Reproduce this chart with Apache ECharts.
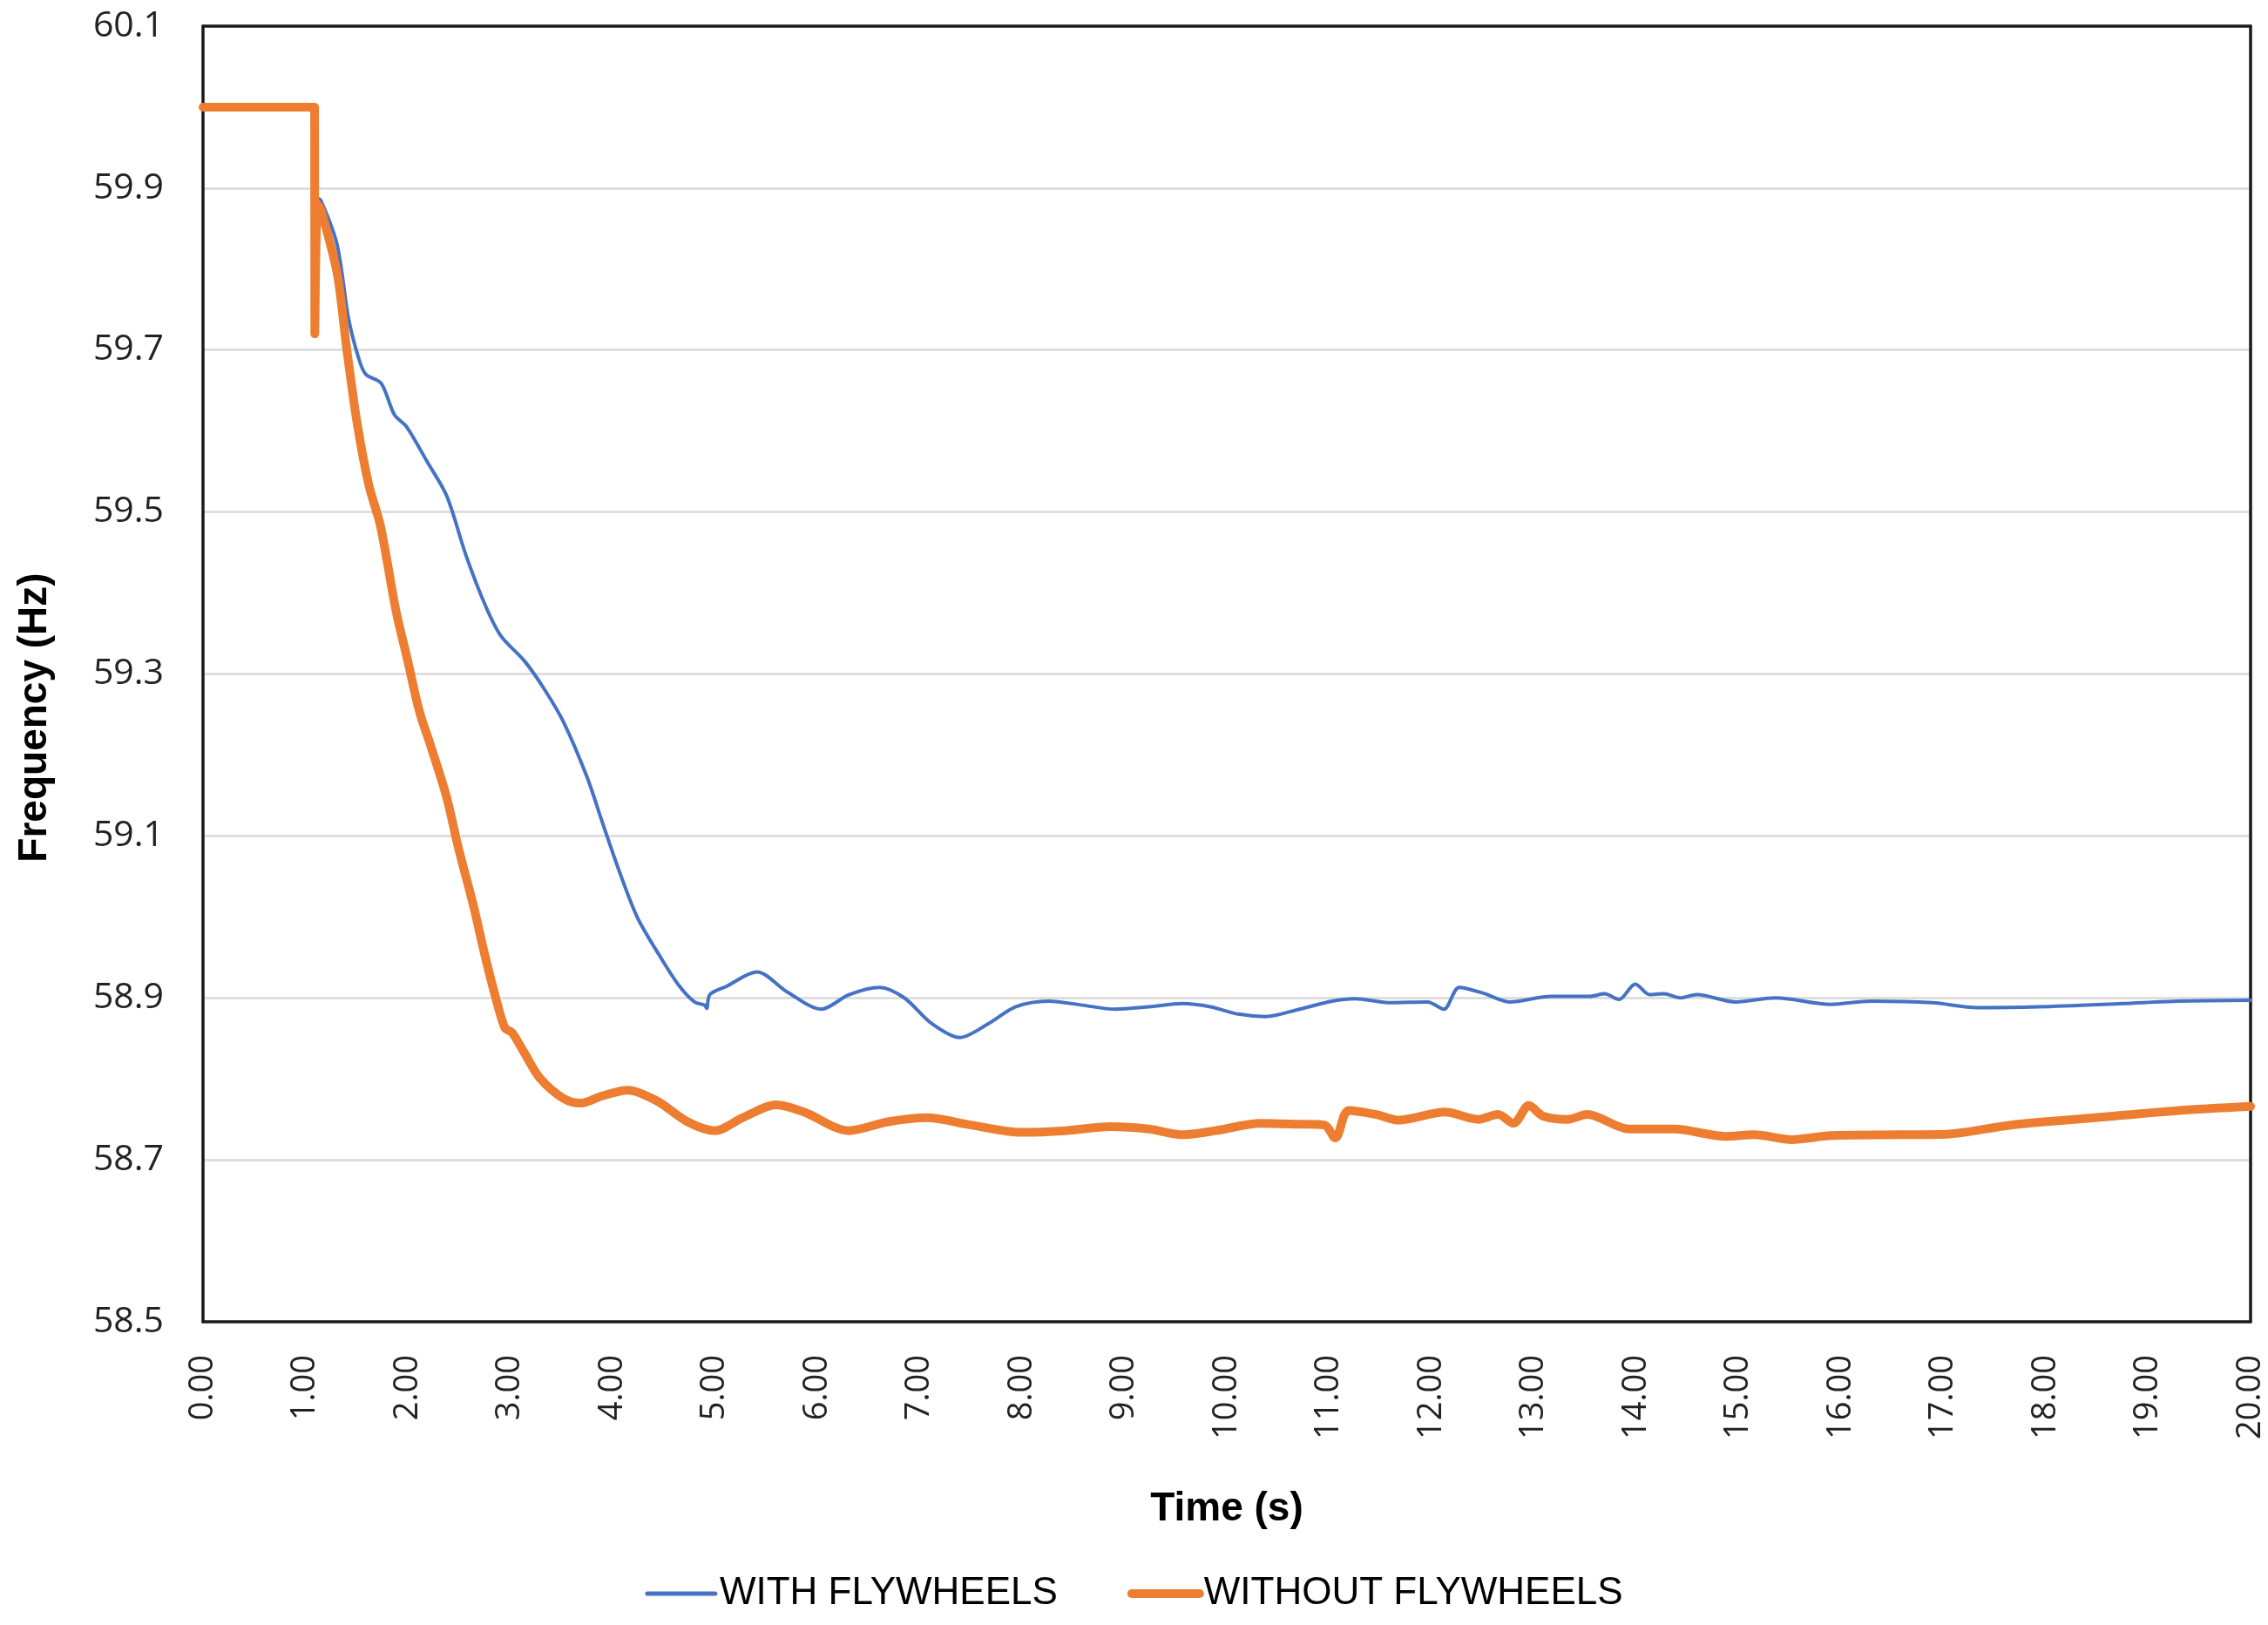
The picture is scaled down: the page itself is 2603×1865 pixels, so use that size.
<!DOCTYPE html>
<html>
<head>
<meta charset="utf-8">
<script src="https://cdn.jsdelivr.net/npm/echarts@6/dist/echarts.min.js"></script>
<style>
html,body{margin:0;padding:0;background:#fff;}
#chart{width:2603px;height:1865px;}
</style>
</head>
<body>
<div id="chart"></div>
<script>
const seriesNames = ['WITH FLYWHEELS', 'WITHOUT FLYWHEELS'];
const xTicks = [0,1,2,3,4,5,6,7,8,9,10,11,12,13,14,15,16,17,18,19,20];
const yTicks = [58.5,58.7,58.9,59.1,59.3,59.5,59.7,59.9,60.1];

const withTime = [0,1.09,1.10,1.15,1.31,1.42,1.52,1.59,1.74,1.87,1.99,2.19,2.38,2.57,2.76,2.91,3.14,3.33,3.52,3.75,3.90,4.05,4.24,4.47,4.65,4.80,4.90,4.92,4.95,5.11,5.41,5.71,6.04,6.31,6.61,6.85,7.12,7.39,7.67,7.94,8.26,8.59,8.91,9.24,9.57,9.84,10.11,10.38,10.71,11.03,11.25,11.60,11.96,12.12,12.27,12.50,12.76,13.17,13.55,13.69,13.83,13.99,14.13,14.27,14.43,14.59,14.97,15.36,15.90,16.29,16.89,17.33,17.93,18.75,19.30,20.00];
const withFreq = [60.0,60.0,59.89,59.885,59.83,59.74,59.69,59.67,59.659,59.62,59.605,59.562,59.52,59.446,59.384,59.347,59.316,59.282,59.241,59.173,59.117,59.062,59.0,58.95,58.915,58.895,58.891,58.887,58.904,58.914,58.932,58.907,58.886,58.904,58.913,58.9,58.868,58.851,58.868,58.889,58.896,58.891,58.886,58.889,58.893,58.889,58.880,58.877,58.886,58.896,58.899,58.894,58.895,58.886,58.913,58.906,58.895,58.902,58.902,58.905,58.898,58.917,58.904,58.905,58.9,58.904,58.895,58.9,58.892,58.896,58.894,58.888,58.889,58.893,58.896,58.897];

const withoutTime = [0,1.09,1.092,1.12,1.15,1.31,1.40,1.505,1.62,1.733,1.885,2.0,2.113,2.227,2.379,2.493,2.645,2.758,2.872,2.949,3.02,3.139,3.29,3.518,3.689,3.898,4.15,4.43,4.734,5.0,5.27,5.6,5.87,6.31,6.69,7.07,7.5,7.99,8.43,8.86,9.24,9.57,9.89,10.33,10.7,10.95,11.06,11.19,11.46,11.68,12.13,12.46,12.65,12.8,12.95,13.09,13.33,13.52,13.93,14.37,14.87,15.15,15.52,15.9,16.56,17.06,17.66,18.48,19.3,20.0];
const withoutFreq = [60.0,60.0,59.72,59.88,59.874,59.795,59.705,59.61,59.533,59.483,59.378,59.316,59.254,59.21,59.148,59.086,59.012,58.95,58.894,58.863,58.857,58.832,58.801,58.776,58.77,58.779,58.786,58.773,58.747,58.736,58.752,58.768,58.759,58.736,58.747,58.752,58.743,58.734,58.736,58.741,58.738,58.731,58.736,58.745,58.744,58.743,58.727,58.761,58.756,58.749,58.759,58.75,58.756,58.745,58.767,58.754,58.75,58.756,58.738,58.738,58.729,58.731,58.725,58.73,58.731,58.732,58.743,58.752,58.761,58.766];

function zip(a, b) { return a.map((v, i) => [v, b[i]]); }

const chart = echarts.init(document.getElementById('chart'), null, {renderer: 'canvas'});
const labelColor = '#222222';
const frameLine = {show: true, onZero: false, lineStyle: {color: '#1a1a1a', width: 3.5}};
chart.setOption({
  backgroundColor: '#ffffff',
  animation: false,
  grid: {left: 233, right: 20, top: 30, bottom: 348, show: false},
  legend: {
    bottom: 9,
    left: 'center',
    itemWidth: 78,
    itemHeight: 14,
    itemGap: 80,
    itemStyle: {opacity: 0},
    textStyle: {fontFamily: 'Liberation Sans', fontSize: 44, color: '#000'},
    data: [
      {name: seriesNames[0], lineStyle: {width: 5, color: '#4472C4'}},
      {name: seriesNames[1], lineStyle: {width: 10, color: '#ED7D31'}}
    ]
  },
  xAxis: [{
    type: 'value',
    min: xTicks[0], max: xTicks[xTicks.length - 1], interval: 1,
    name: 'Time (s)',
    nameLocation: 'middle',
    nameGap: 192,
    nameTextStyle: {fontFamily: 'Liberation Sans', fontWeight: 'bold', fontSize: 46, color: '#000'},
    axisLine: frameLine,
    axisTick: {show: false},
    splitLine: {show: false},
    axisLabel: {
      rotate: 90, margin: 38,
      fontFamily: 'Open Sans', fontSize: 38, color: labelColor,
      formatter: v => v.toFixed(2)
    }
  }, {
    type: 'value', position: 'top',
    min: xTicks[0], max: xTicks[xTicks.length - 1], interval: 1,
    axisLine: frameLine, axisTick: {show: false}, axisLabel: {show: false}, splitLine: {show: false}
  }],
  yAxis: [{
    type: 'value',
    min: yTicks[0], max: yTicks[yTicks.length - 1], interval: 0.2,
    name: 'Frequency (Hz)',
    nameLocation: 'middle',
    nameGap: 170,
    nameTextStyle: {fontFamily: 'Liberation Sans', fontWeight: 'bold', fontSize: 46, color: '#000', padding: [0, 100, 0, 0]},
    axisLine: frameLine,
    axisTick: {show: false},
    splitLine: {show: true, showMinLine: false, showMaxLine: false, lineStyle: {color: '#d9d9d9', width: 2.5}},
    axisLabel: {
      margin: 45,
      fontFamily: 'Open Sans', fontSize: 41, color: labelColor,
      formatter: v => v.toFixed(1)
    }
  }, {
    type: 'value', position: 'right',
    min: yTicks[0], max: yTicks[yTicks.length - 1], interval: 0.2,
    axisLine: frameLine, axisTick: {show: false}, axisLabel: {show: false}, splitLine: {show: false}
  }],
  series: [
    {
      name: seriesNames[0], type: 'line', data: zip(withTime, withFreq),
      showSymbol: false, symbol: 'none', smooth: 0.3,
      lineStyle: {color: '#4472C4', width: 4, cap: 'round', join: 'round'},
      itemStyle: {color: '#4472C4'}
    },
    {
      name: seriesNames[1], type: 'line', data: zip(withoutTime, withoutFreq),
      showSymbol: false, symbol: 'none', smooth: 0.3,
      lineStyle: {color: '#ED7D31', width: 10, cap: 'round', join: 'round'},
      itemStyle: {color: '#ED7D31'}
    }
  ]
});
</script>
</body>
</html>
